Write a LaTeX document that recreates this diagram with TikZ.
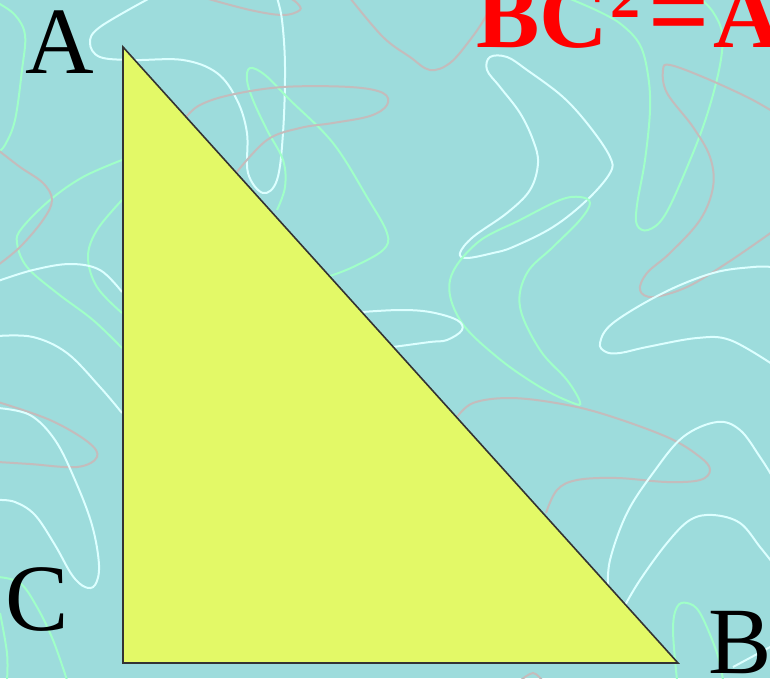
\documentclass[tikz,border=0pt]{standalone}
\usepackage{fontspec}
\setmainfont{Liberation Serif}
\definecolor{bgc}{HTML}{9DDCDC}
\definecolor{cw}{HTML}{DDFFFF}
\definecolor{cg}{HTML}{A0FFC8}
\definecolor{cy}{HTML}{C4BCBC}
\definecolor{tri}{HTML}{E3F967}
\definecolor{edge}{HTML}{333333}
\tikzset{
  wcurve/.style={draw=cw,line width=2pt},
  gcurve/.style={draw=cg,line width=2pt},
  ycurve/.style={draw=cy,line width=2pt},
  vlabel/.style={inner sep=0pt,anchor=base west,font=\fontsize{95}{95}\selectfont},
  eqtext/.style={inner sep=0pt,anchor=base west,text=red,font=\bfseries\fontsize{95}{95}\selectfont},
}
\begin{document}
\begin{tikzpicture}[x=1pt,y=-1pt]
\useasboundingbox (0,0) rectangle (770,678);
\fill[bgc] (0,0) rectangle (770,678);
\begin{scope}
\clip (0,0) rectangle (770,678);
% left side curves
\draw[gcurve] plot[smooth,tension=0.6] coordinates {(-2,3) (15,15) (25,35) (22,70) (15,120) (5,145) (-2,152)};
\draw[gcurve] plot[smooth,tension=0.6] coordinates {(122,160) (83,177) (50,200) (22,228) (17,243) (27,267) (57,293) (93,320) (122,348)};
\draw[gcurve] plot[smooth,tension=0.6] coordinates {(122,200) (97,230) (88,257) (97,287) (122,313)};
\draw[ycurve] plot[smooth,tension=0.6] coordinates {(-2,150) (20,167) (43,183) (52,200) (43,220) (20,247) (-2,265)};
\draw[wcurve] plot[smooth,tension=0.6] coordinates {(-2,281) (33,270) (70,264) (100,270) (122,292)};
\draw[wcurve] plot[smooth,tension=0.6] coordinates {(-2,336) (33,337) (67,353) (100,387) (122,413)};
\draw[ycurve] plot[smooth,tension=0.6] coordinates {(-2,402) (50,420) (88,442) (97,457) (77,467) (30,464) (-2,462)};
\draw[wcurve] plot[smooth,tension=0.6] coordinates {(-2,408) (30,415) (55,440) (75,480) (92,525) (99,565) (95,585) (85,587) (72,575) (55,545) (35,515) (15,502) (-2,500)};
\draw[gcurve] plot[smooth,tension=0.6] coordinates {(-2,577) (20,583) (37,607) (53,640) (67,680)};
\draw[gcurve] plot[smooth,tension=0.6] coordinates {(0,613) (7,653) (7,680)};
% top middle curves
\draw[ycurve] plot[smooth,tension=0.6] coordinates {(205,-2) (250,10) (283,15) (300,10) (297,3) (290,-2)};
\draw[wcurve] plot[smooth,tension=0.6] coordinates {(150,-2) (100,27) (90,43) (100,57) (133,60) (183,60) (217,73) (237,100) (247,133) (248,173) (263,193) (277,180) (283,133) (285,67) (282,20) (277,-2)};
\draw[gcurve] plot[smooth,tension=0.6] coordinates {(277,210) (285,187) (283,160) (267,130) (253,100) (247,80) (250,68) (265,75) (290,100) (333,143) (367,197) (387,233) (383,250) (353,267) (330,276)};
\draw[ycurve] plot[smooth,tension=0.6] coordinates {(236,173) (267,140) (300,128) (333,123) (370,116) (387,105) (383,93) (350,87) (283,87) (230,95) (200,105) (186,117)};
\draw[ycurve] plot[smooth,tension=0.6] coordinates {(350,-2) (383,37) (410,57) (430,70) (450,63) (470,40) (485,18) (495,-2)};
% right upper curves
\draw[wcurve] plot[smooth cycle,tension=0.6] coordinates {(490,57) (507,57) (527,70) (563,97) (590,127) (610,157) (610,173) (587,200) (553,227) (513,247) (493,253) (467,258) (460,253) (473,237) (507,213) (530,190) (538,163) (533,140) (520,113) (500,87) (487,70)};
\draw[gcurve] plot[smooth cycle,tension=0.6] coordinates {(580,402) (567,380) (540,350) (520,307) (527,273) (553,247) (580,220) (590,203) (580,197) (560,200) (520,220) (477,243) (450,280) (460,320) (497,357) (540,387) (573,403)};
\draw[gcurve] plot[smooth,tension=0.6] coordinates {(568,-2) (600,12) (622,25) (640,45) (648,75) (650,110) (645,160) (637,205) (637,225) (648,230) (665,215) (688,165) (707,115) (720,65) (722,33) (713,12) (700,-2)};
\draw[ycurve] plot[smooth,tension=0.6] coordinates {(772,111) (747,97) (703,77) (670,65) (663,70) (667,93) (693,127) (710,157) (713,187) (700,220) (670,253) (647,273) (640,290) (653,297) (687,287) (727,263) (772,232)};
\draw[wcurve] plot[smooth,tension=0.6] coordinates {(772,267) (753,267) (713,273) (663,293) (613,323) (600,343) (606,352) (620,353) (647,347) (697,338) (730,340) (772,364)};
\draw[wcurve] plot[smooth,tension=0.6] coordinates {(362,312) (400,310) (430,312) (457,320) (462,330) (447,340) (430,342) (393,347)};
% right lower curves
\draw[ycurve] plot[smooth,tension=0.6] coordinates {(457,417) (473,403) (507,398) (550,402) (600,413) (667,437) (700,457) (710,470) (700,480) (667,482) (617,478) (577,480) (557,490) (546,513)};
\draw[wcurve] plot[smooth,tension=0.6] coordinates {(608,590) (610,560) (627,513) (653,473) (683,437) (717,422) (740,430) (760,457) (772,476)};
\draw[wcurve] plot[smooth,tension=0.6] coordinates {(624,607) (640,580) (667,543) (690,520) (713,515) (740,523) (760,547) (772,562)};
\draw[gcurve] plot[smooth,tension=0.6] coordinates {(677,680) (673,630) (677,607) (687,603) (700,613) (717,653) (723,680)};
\draw[wcurve] plot[smooth,tension=0.6] coordinates {(733,667) (772,646)};
\draw[ycurve] plot[smooth,tension=0.6] coordinates {(521,680) (533,673) (542,680)};
\end{scope}
% triangle
\coordinate (A) at (123,47);
\coordinate (C) at (123,663);
\coordinate (B) at (678,663);
\filldraw[fill=tri,draw=edge,line width=1.6pt,line join=miter] (A) -- (B) -- (C) -- cycle;
% labels
\node[vlabel] (la) at (25,73) {A};
\node[vlabel] (lc) at (5,630) {C};
\node[vlabel] (lb) at (708,673) {B};
% formula
\node[eqtext] (eqbc) at (476,47) {BC};
\node[eqtext,font=\bfseries\fontsize{60}{60}\selectfont] (eqsq) at (610,17) {2};
\node[eqtext,font=\bfseries\fontsize{108}{108}\selectfont] (eqeq) at (648,47) {=};
\node[eqtext] (eqa) at (713,47) {A};
\end{tikzpicture}
\end{document}
